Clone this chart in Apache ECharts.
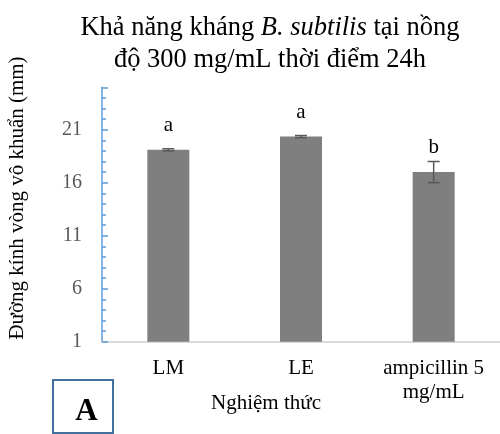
<!DOCTYPE html>
<html>
<head>
<meta charset="utf-8">
<script src="https://cdn.jsdelivr.net/npm/echarts@6/dist/echarts.min.js"></script>
<style>
  html, body { margin: 0; padding: 0; background: #fff; }
  #chart { width: 500px; height: 434px; }
</style>
</head>
<body>
<div id="chart"></div>
<script>
// Treatments, mean inhibition-zone diameters (mm), standard errors and significance letters
const categories = ['LM', 'LE', 'ampicillin 5\nmg/mL'];
const means = [19.1, 20.35, 17.0];
const errors = [0.1, 0.1, 1.0];
const letters = ['a', 'a', 'b'];

const serif = '"Liberation Serif", "Times New Roman", serif';

const chart = echarts.init(document.getElementById('chart'), null, { renderer: 'canvas' });

const option = {
  animation: false,
  backgroundColor: '#ffffff',
  title: {
    left: 265,
    top: 7,
    textAlign: 'center',
    text: '{n|Khả năng kháng }{i|B. subtilis}{n| tại nồng}\n{n|độ 300 mg/mL thời điểm 24h}',
    textStyle: {
      fontWeight: 'normal',
      rich: {
        n: { fontFamily: serif, fontSize: 26.5, fontWeight: 'normal', color: '#000', lineHeight: 32 },
        i: { fontFamily: serif, fontSize: 26.5, fontWeight: 'normal', color: '#000', fontStyle: 'italic', lineHeight: 32 }
      }
    }
  },
  grid: { left: 102, right: -5, top: 87.3, bottom: 92.3 },
  xAxis: {
    type: 'category',
    data: categories,
    axisLine: { lineStyle: { color: '#d9d9d9', width: 2 } },
    axisTick: { show: false },
    axisLabel: {
      color: '#000',
      fontFamily: serif,
      fontSize: 21,
      lineHeight: 24,
      margin: 15,
      interval: 0
    }
  },
  yAxis: [
    {
      type: 'value',
      min: 1,
      max: 25,
      interval: 1,
      axisLine: { show: true, lineStyle: { color: '#5b9bd5', width: 1.5 } },
      axisTick: { show: true, inside: true, length: 4, lineStyle: { color: '#5b9bd5', width: 1.5 } },
      splitLine: { show: false },
      axisLabel: {
        color: '#595959',
        fontFamily: serif,
        fontSize: 20,
        margin: 20,
        showMaxLabel: false,
        formatter: function (v) { return (v - 1) % 5 === 0 && v < 25 ? String(v) : ''; }
      }
    },
    {
      type: 'value',
      position: 'left',
      min: 1,
      max: 25,
      interval: 5,
      axisLine: { show: false },
      axisTick: { show: true, inside: true, length: 6, lineStyle: { color: '#5b9bd5', width: 1.5 } },
      splitLine: { show: false },
      axisLabel: { show: false }
    }
  ],
  series: [
    {
      type: 'bar',
      data: means,
      barWidth: 42,
      itemStyle: { color: '#7f7f7f' },
      label: {
        show: true,
        position: 'top',
        distance: 14,
        fontFamily: serif,
        fontSize: 21,
        color: '#000',
        formatter: function (p) { return letters[p.dataIndex]; }
      }
    },
    {
      type: 'custom',
      data: means.map(function (m, i) { return [i, m - errors[i], m + errors[i]]; }),
      renderItem: function (params, api) {
        const x = api.coord([api.value(0), 0])[0];
        const lo = api.coord([api.value(0), api.value(1)])[1];
        const hi = api.coord([api.value(0), api.value(2)])[1];
        const half = 6;
        const style = { stroke: '#595959', lineWidth: 1.5 };
        return {
          type: 'group',
          children: [
            { type: 'line', shape: { x1: x, y1: lo, x2: x, y2: hi }, style: style },
            { type: 'line', shape: { x1: x - half, y1: lo, x2: x + half, y2: lo }, style: style },
            { type: 'line', shape: { x1: x - half, y1: hi, x2: x + half, y2: hi }, style: style }
          ]
        };
      },
      z: 5
    }
  ],
  graphic: [
    {
      type: 'text',
      x: 17,
      y: 198,
      rotation: Math.PI / 2,
      style: {
        text: 'Đường kính vòng vô khuẩn (mm)',
        fontFamily: serif,
        fontSize: 21,
        fill: '#000',
        align: 'center',
        verticalAlign: 'middle'
      }
    },
    {
      type: 'text',
      x: 266,
      y: 403,
      style: {
        text: 'Nghiệm thức',
        fontFamily: serif,
        fontSize: 21,
        fill: '#000',
        align: 'center',
        verticalAlign: 'middle'
      }
    },
    {
      type: 'rect',
      shape: { x: 53, y: 380, width: 60, height: 53 },
      style: { fill: '#fff', stroke: '#41719c', lineWidth: 2 }
    },
    {
      type: 'text',
      x: 86.5,
      y: 412,
      style: {
        text: 'A',
        fontFamily: serif,
        fontSize: 31,
        fontWeight: 'bold',
        fill: '#000',
        align: 'center',
        verticalAlign: 'middle'
      }
    }
  ]
};

chart.setOption(option);
</script>
</body>
</html>
